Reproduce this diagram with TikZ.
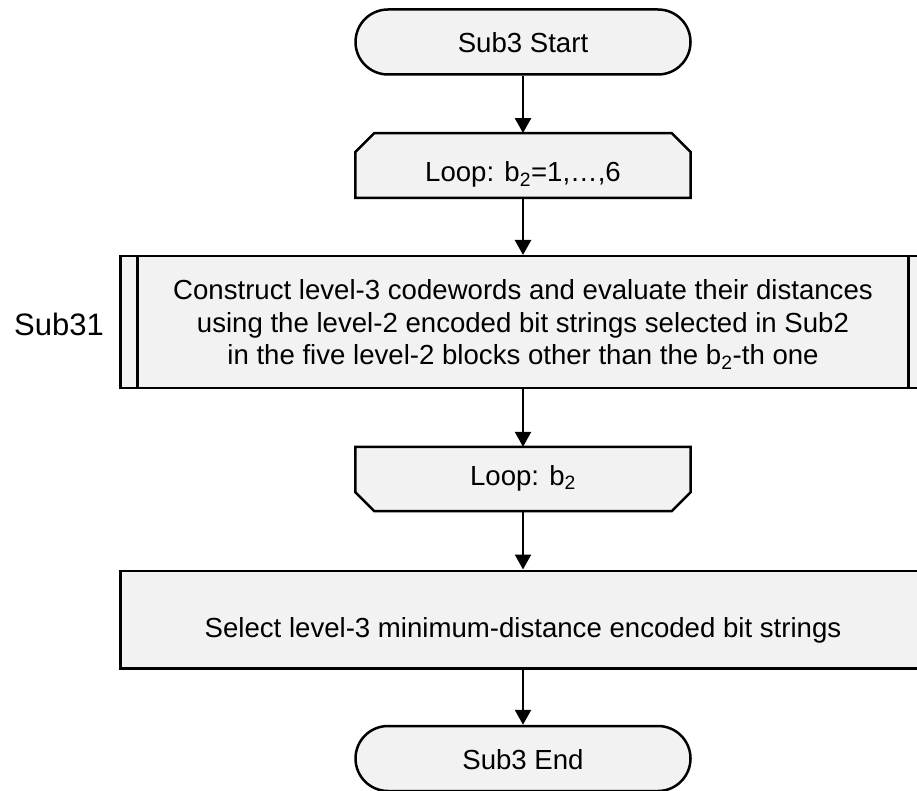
\documentclass[tikz,border=0pt]{standalone}
\usepackage{fontspec}
\setmainfont{Liberation Sans}
\usetikzlibrary{arrows.meta,backgrounds}
\definecolor{boxfill}{HTML}{F2F2F2}
\begin{document}
\begin{tikzpicture}[x=1pt,y=-1pt,
  outline/.style={draw=black, line width=2.5pt, fill=boxfill},
  flowtext/.style={font=\fontsize{27.6pt}{32.5pt}\selectfont, inner sep=0pt, align=center},
  terminal/.style={flowtext, outline, rectangle, rounded corners=32.5pt,
    minimum width=335pt, minimum height=65pt, text height=22pt, text depth=0pt},
  loopbox/.style={flowtext, rectangle, minimum width=335pt, minimum height=64.5pt},
  widebox/.style={flowtext, outline, rectangle, minimum width=805.5pt},
  flow/.style={line width=2.5pt, -{Triangle[length=15pt,width=16pt]}},
]
\clip (0,0) rectangle (917,791);

% terminals
\node[terminal] (start) at (523,42) {Sub3 Start};
\node[terminal] (stop) at (523,758.5) {Sub3 End};

% loop limits
\node[loopbox, text height=33pt, text depth=0pt] (loopA) at (523,165.5)
  {Loop: b\textsubscript{2}=1,…,6};
\node[loopbox, minimum height=64pt, text height=18pt, text depth=6pt] (loopB) at (523,479)
  {Loop: b\textsubscript{2}};

% predefined process
\node[widebox, minimum height=131.5pt, text depth=0pt] (sub) at (523,322)
  {Construct level-3 codewords and evaluate their distances\\
   using the level-2 encoded bit strings selected in Sub2\\
   in the five level-2 blocks other than the b\textsubscript{2}-th one};
\draw[line width=2.5pt] ([xshift=18.5pt]sub.north west) -- ([xshift=18.5pt]sub.south west);
\draw[line width=2.5pt] ([xshift=-18.5pt]sub.north east) -- ([xshift=-18.5pt]sub.south east);
\node[font=\fontsize{31pt}{31pt}\selectfont, anchor=base, inner sep=0pt] (sublabel) at (59,335.5) {Sub31};

% process
\node[widebox, minimum height=97.5pt, text height=35pt, text depth=0pt] (select) at (523,619.5)
  {Select level-3 minimum-distance encoded bit strings};

% loop limit outlines
\begin{scope}[on background layer]
  \draw[outline] ([xshift=19pt]loopA.north west) -- ([xshift=-19pt]loopA.north east)
    -- ([yshift=-19pt]loopA.north east) -- (loopA.south east) -- (loopA.south west)
    -- ([yshift=-19pt]loopA.north west) -- cycle;
  \draw[outline] (loopB.north west) -- (loopB.north east)
    -- ([yshift=19pt]loopB.south east) -- ([xshift=-19pt]loopB.south east)
    -- ([xshift=19pt]loopB.south west) -- ([yshift=19pt]loopB.south west) -- cycle;
\end{scope}

% connectors
\draw[flow] (start) -- (loopA);
\draw[flow] (loopA) -- (sub);
\draw[flow] (sub) -- (loopB);
\draw[flow] (loopB) -- (select);
\draw[flow] (select) -- (stop);
\end{tikzpicture}
\end{document}
